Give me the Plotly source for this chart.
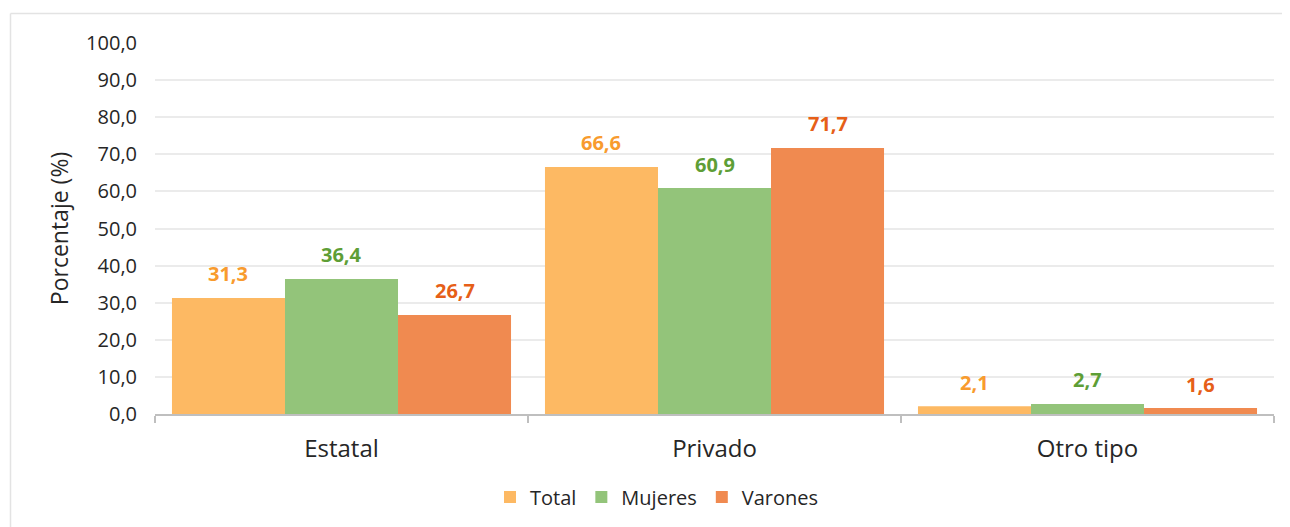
import plotly.graph_objects as go

categories = ["Estatal", "Privado", "Otro tipo"]
series_names = ["Total", "Mujeres", "Varones"]
total = [31.3, 66.6, 2.1]
mujeres = [36.4, 60.9, 2.7]
varones = [26.7, 71.7, 1.6]
y_ticks = [0, 10, 20, 30, 40, 50, 60, 70, 80, 90, 100]

series_values = [total, mujeres, varones]
bar_colors = ["#FDB963", "#93C47A", "#F08A50"]
label_colors = ["#F89B2E", "#5E9E36", "#E65F18"]

FONT = "Open Sans"
OFF = 8  # page body margin
W, H = 1290 - OFF, 527 - OFF
# plot area in page pixels: x 155..1274, y 43..415
L = 155 - OFF
R = W - (1274 - OFF)
T = 43 - OFF
B = H - (415 - OFF)
plot_w = W - L - R
plot_h = H - T - B
bargap = 0.091
bar_px = plot_w / 3 * (1 - bargap) / 3

fig = go.Figure()
for name, vals, col in zip(series_names, series_values, bar_colors):
    fig.add_trace(go.Bar(x=categories, y=vals, name=name, marker=dict(color=col, line=dict(width=0))))

annotations = []
for i, (vals, lc) in enumerate(zip(series_values, label_colors)):
    for cat, v in zip(categories, vals):
        annotations.append(dict(
            x=cat, y=v, xref="x", yref="y",
            text=f"{v:.1f}".replace(".", ","),
            showarrow=False, xshift=(i - 1) * bar_px, yshift=24,
            font=dict(family=FONT, size=20, color=lc, weight="bold"),
        ))

px_to_paper_x = lambda p: (p - OFF - L) / plot_w
px_to_paper_y = lambda p: (H - B - (p - OFF)) / plot_h

shapes = [
    dict(type="line", xref="paper", yref="paper",
         x0=px_to_paper_x(10.5), x1=px_to_paper_x(1300), y0=px_to_paper_y(13.5), y1=px_to_paper_y(13.5),
         line=dict(color="#E3E3E3", width=1.5)),
    dict(type="line", xref="paper", yref="paper",
         x0=px_to_paper_x(10.5), x1=px_to_paper_x(10.5), y0=px_to_paper_y(13.5), y1=px_to_paper_y(540),
         line=dict(color="#E3E3E3", width=1.5)),
]

fig.update_layout(
    width=W, height=H,
    margin=dict(l=L, r=R, t=T, b=B),
    paper_bgcolor="white", plot_bgcolor="white",
    barmode="group", bargap=bargap, bargroupgap=0,
    separators=",.",
    font=dict(family=FONT, color="#262626"),
    annotations=annotations,
    shapes=shapes,
    legend=dict(orientation="h", x=px_to_paper_x(657), xanchor="center",
                y=px_to_paper_y(497), yanchor="middle",
                font=dict(family=FONT, size=20, color="#262626"),
                itemwidth=30, traceorder="normal"),
    xaxis=dict(tickfont=dict(family=FONT, size=24, color="#262626"),
               showline=True, linecolor="#BFBFBF", linewidth=2,
               ticks="outside", tickson="boundaries", tickcolor="#BFBFBF", ticklen=7, tickwidth=2,
               ticklabelstandoff=12, showgrid=False),
    yaxis=dict(range=[0, 100], tickvals=y_ticks, tickformat=".1f",
               tickfont=dict(family=FONT, size=20, color="#262626"),
               gridcolor="#EBEBEB", gridwidth=1.5, zeroline=False, ticklabelstandoff=17,
               title=dict(text="Porcentaje (%)", font=dict(family=FONT, size=23, color="#262626"), standoff=11)),
)

fig.write_html("out.html")
